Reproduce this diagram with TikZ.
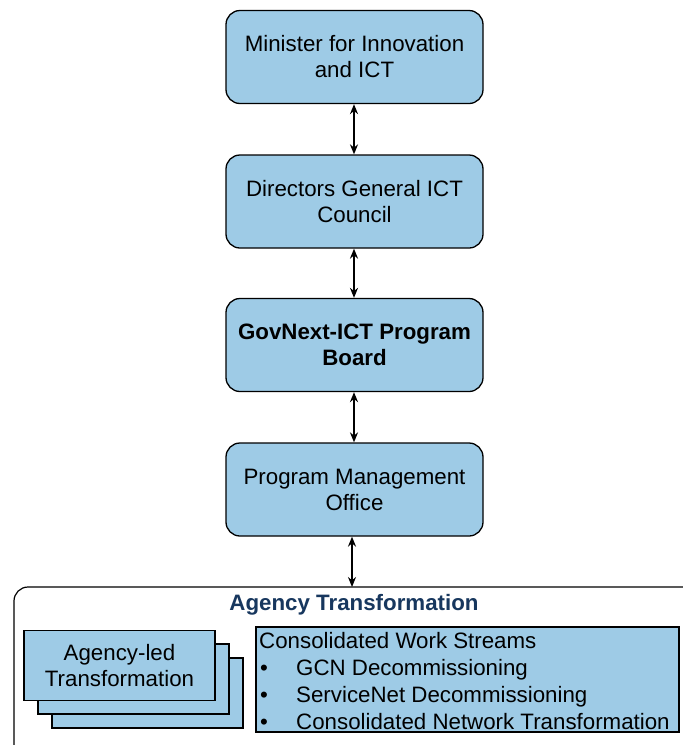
\documentclass[tikz,border=0pt]{standalone}
\usepackage{fontspec}
\setmainfont{Liberation Sans}
\usetikzlibrary{arrows.meta}
\definecolor{boxblue}{RGB}{158,203,230}
\definecolor{titleblue}{RGB}{23,55,94}
\tikzset{
  orgbox/.style={draw=black, line width=1.3pt, fill=boxblue, rounded corners=14pt,
    minimum width=257pt, minimum height=93pt, align=center, font=\fontsize{22.3}{26}\selectfont},
  flatbox/.style={draw=black, line width=1.3pt, fill=boxblue, minimum width=191pt, minimum height=70pt,
    align=center, font=\fontsize{22.3}{26}\selectfont},
  link/.style={line width=1.4pt, {Stealth[length=10pt,width=8pt]}-{Stealth[length=10pt,width=8pt]}},
  itemtext/.style={anchor=base west, inner sep=0pt, font=\fontsize{22.3}{26}\selectfont}
}
\begin{document}
\begin{tikzpicture}[x=1pt,y=-1pt]
\useasboundingbox (0,0) rectangle (683,745);
\clip (0,0) rectangle (683,745);
\fill[white] (0,0) rectangle (683,745);
\node[orgbox] (min) at (354.5,57) {Minister for Innovation\\and ICT};
\node[orgbox] (dg) at (354.5,201.5) {Directors General ICT\\Council};
\node[orgbox, font=\fontsize{22.3}{26}\selectfont\bfseries] (pb) at (354.5,345) {GovNext-ICT Program\\Board};
\node[orgbox] (pmo) at (354.5,489.5) {Program Management\\Office};
\draw[line width=1.2pt, rounded corners=14pt] (14,752) -- (14,587) -- (700,587);
\coordinate (cont) at (352,587);
\node[font=\fontsize{22.3}{26}\selectfont\bfseries, text=titleblue] (title) at (354,605) {Agency Transformation};
\node[flatbox] (ag3) at (147.5,693) {};
\node[flatbox] (ag2) at (133.5,679) {};
\node[flatbox] (ag1) at (119.5,665.5) {Agency-led\\Transformation};
\node[draw=black, line width=1.3pt, fill=boxblue, minimum width=423pt, minimum height=105pt] (cws) at (467.5,679.5) {};
\node[itemtext] (cwsh) at (259,648) {Consolidated Work Streams};
\node[itemtext] (b1) at (260,675) {\textbullet};
\node[itemtext] (t1) at (296,675) {GCN Decommissioning};
\node[itemtext] (b2) at (260,702) {\textbullet};
\node[itemtext] (t2) at (296,702) {ServiceNet Decommissioning};
\node[itemtext] (b3) at (260,729) {\textbullet};
\node[itemtext] (t3) at (296,729) {Consolidated Network Transformation};
\draw[link] (min.south -| 354,0) -- (dg.north -| 354,0);
\draw[link] (dg.south -| 354,0) -- (pb.north -| 354,0);
\draw[link] (pb.south -| 354,0) -- (pmo.north -| 354,0);
\draw[link] (pmo.south -| 352,0) -- (cont);
\end{tikzpicture}
\end{document}
